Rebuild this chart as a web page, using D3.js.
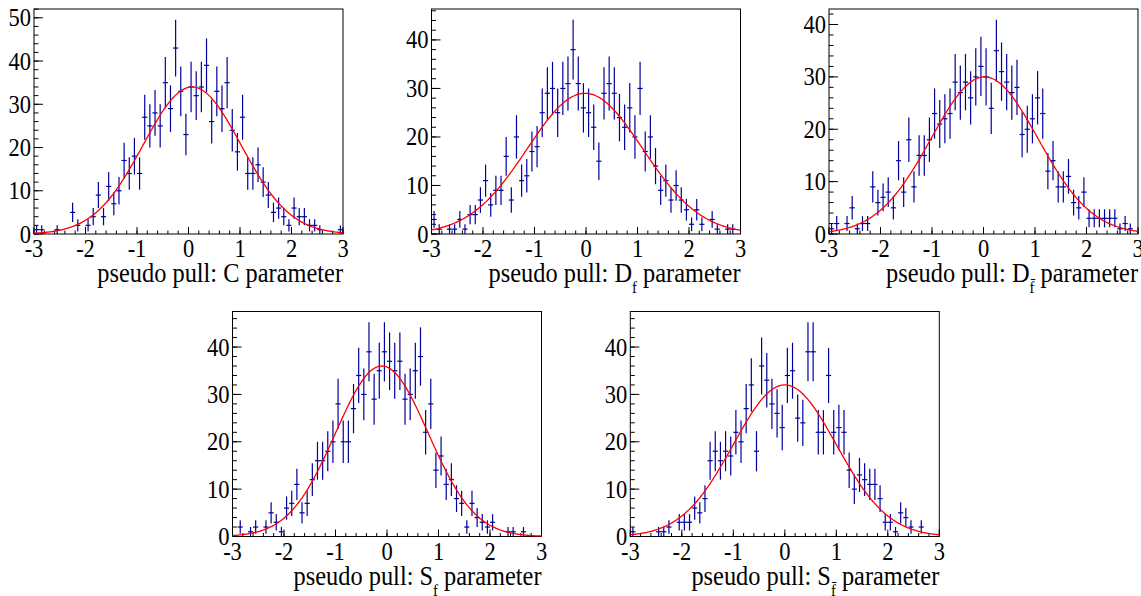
<!DOCTYPE html>
<html>
<head>
<meta charset="utf-8">
<script src="https://cdn.jsdelivr.net/npm/d3@7"></script>
<style>
  body { margin: 0; background: #fff; }
</style>
</head>
<body>
<svg id="chart" width="1141" height="596"></svg>
<script>

// bin contents, 60 bins of 0.1 from -3 to 3
const countsC = [1,1,0,0,1,0,0,5,2,0, 2,4,9,4,11,7,10,17,14,18, 14,27,25,28,25,35,29,43,33,23,
  34,32,34,39,26,33,29,35,24,19, 27,14,14,16,12,9,5,6,4,2, 6,4,4,2,2,1,0,0,0,1]
const countsDf = [3,1,0,1,1,3,1,4,4,7, 11,6,9,9,16,7,20,11,12,17, 18,25,29,30,25,30,31,38,31,26,
  25,22,15,29,31,29,24,22,26,20, 30,17,20,14,9,11,7,10,7,5, 2,5,2,0,3,1,0,1,1,0]
const countsDfbar = [1,2,0,2,5,1,2,2,9,6, 7,8,5,14,8,18,9,15,15,18, 23,21,22,23,29,27,29,26,30,32,
  30,24,35,31,29,27,28,19,20,22, 26,23,12,14,9,9,11,6,5,8, 3,3,3,3,3,3,1,2,1,0]
const countsSf = [0,2,0,1,2,0,2,5,3,1, 6,7,11,5,7,12,16,16,18,20, 28,20,20,27,34,30,39,29,35,39,
  37,35,37,29,30,35,38,22,28,14, 17,11,12,8,7,2,7,4,3,2, 3,0,0,1,1,0,1,0,0,0]
const countsSfbar = [1,0,0,0,0,1,1,2,0,3, 3,3,6,5,8,16,18,16,18,17, 22,20,27,32,18,36,33,28,26,23,
  34,35,25,24,39,39,22,22,34,22, 23,22,14,10,13,12,11,11,8,3, 3,1,5,4,2,0,2,0,0,0]

// gaussian fit results
const fitAmp = [34, 29, 30, 36, 32]
const fitMean = [0.07, -0.02, 0.02, -0.1, 0.0]
const fitSigma = [0.95, 1.12, 1.04, 0.9, 1.0]

const xTicks = [-3, -2, -1, 0, 1, 2, 3]
const titleMain = ["pseudo pull: C", "pseudo pull: D", "pseudo pull: D", "pseudo pull: S", "pseudo pull: S"]
const titleSub = ["", "f", "f\u0304", "f", "f\u0304"]

const allCounts = [countsC, countsDf, countsDfbar, countsSf, countsSfbar]

// frame placement
const frames = [
  {left: 34, top: 9}, {left: 431.5, top: 9}, {left: 829, top: 9},
  {left: 232.5, top: 311.5}, {left: 630.3, top: 311.5}
]
const fw = 309, fh = 225

const svg = d3.select('#chart')
const blue = '#00009a'

// text placed at (px,py) then squeezed horizontally, the reference text is narrow and tall
function label(parent, px, py, anchor, size, squeeze) {
  return parent.append('g')
    .attr('transform', `translate(${px},${py}) scale(${squeeze},1)`)
    .append('text')
    .attr('text-anchor', anchor)
    .attr('font-family', 'Liberation Serif')
    .attr('font-size', size)
    .attr('fill', '#000')
}

allCounts.forEach((counts, p) => {

  let f = frames[p]
  let g = svg.append('g').attr('transform', `translate(${f.left},${f.top})`)

  let bins = counts.map((v, i) => ({lo: -3 + i * 0.1, hi: -3 + (i + 1) * 0.1, v: v}))

  let ymax = 1.05 * d3.max(counts, v => v + Math.sqrt(v))

  let x = d3.scaleLinear().domain([-3, 3]).range([0, fw])
  let y = d3.scaleLinear().domain([0, ymax]).range([fh, 0])

  // frame
  g.append('rect')
  .attr('x', 0).attr('y', 0)
  .attr('width', fw).attr('height', fh)
  .attr('fill', 'none').attr('stroke', '#000').attr('stroke-width', 1)

  // x ticks
  let xMinor = d3.range(-3, 3.001, 0.2)
  g.selectAll('.xminor').data(xMinor).enter().append('line')
  .attr('x1', d => x(d)).attr('x2', d => x(d))
  .attr('y1', fh).attr('y2', fh - 3.5)
  .attr('stroke', '#000')

  g.selectAll('.xmajor').data(xTicks).enter().append('line')
  .attr('x1', d => x(d)).attr('x2', d => x(d))
  .attr('y1', fh).attr('y2', fh - 7)
  .attr('stroke', '#000')

  xTicks.forEach(t => label(g, x(t), fh + 23, 'middle', 25, 0.9).text(t))

  // y ticks
  let yMinor = d3.range(0, ymax, 2)
  let yMajor = d3.range(0, ymax, 10)

  g.selectAll('.yminor').data(yMinor).enter().append('line')
  .attr('x1', 0).attr('x2', 4.5)
  .attr('y1', d => y(d)).attr('y2', d => y(d))
  .attr('stroke', '#000')

  g.selectAll('.ymajor').data(yMajor).enter().append('line')
  .attr('x1', 0).attr('x2', 9)
  .attr('y1', d => y(d)).attr('y2', d => y(d))
  .attr('stroke', '#000')

  yMajor.forEach(t => label(g, -3, y(t) + 8.5, 'end', 25, 0.9).text(t))

  // error bars
  let filled = bins.filter(b => b.v > 0)

  g.selectAll('.hbar').data(filled).enter().append('line')
  .attr('x1', d => x(d.lo)).attr('x2', d => x(d.hi))
  .attr('y1', d => y(d.v)).attr('y2', d => y(d.v))
  .attr('stroke', blue).attr('stroke-width', 1.2)

  g.selectAll('.vbar').data(filled).enter().append('line')
  .attr('x1', d => x((d.lo + d.hi) / 2)).attr('x2', d => x((d.lo + d.hi) / 2))
  .attr('y1', d => y(d.v - Math.sqrt(d.v))).attr('y2', d => y(d.v + Math.sqrt(d.v)))
  .attr('stroke', blue).attr('stroke-width', 1.2)

  // fit curve
  let gauss = t => fitAmp[p] * Math.exp(-0.5 * Math.pow((t - fitMean[p]) / fitSigma[p], 2))
  let curve = d3.range(-3, 3.0001, 0.02)

  g.append('path')
  .datum(curve)
  .attr('d', d3.line().x(d => x(d)).y(d => y(gauss(d))))
  .attr('fill', 'none')
  .attr('stroke', '#ff0000')
  .attr('stroke-width', 1.3)

  // axis title
  let title = label(g, fw, fh + 48, 'end', 26.5, 0.92)

  title.append('tspan').text(titleMain[p])
  if (titleSub[p]) {
    title.append('tspan').attr('dy', 11).attr('font-size', 16).text(titleSub[p])
    title.append('tspan').attr('dy', -11).text(' parameter')
  } else {
    title.append('tspan').text(' parameter')
  }
})

</script>
</body>
</html>
